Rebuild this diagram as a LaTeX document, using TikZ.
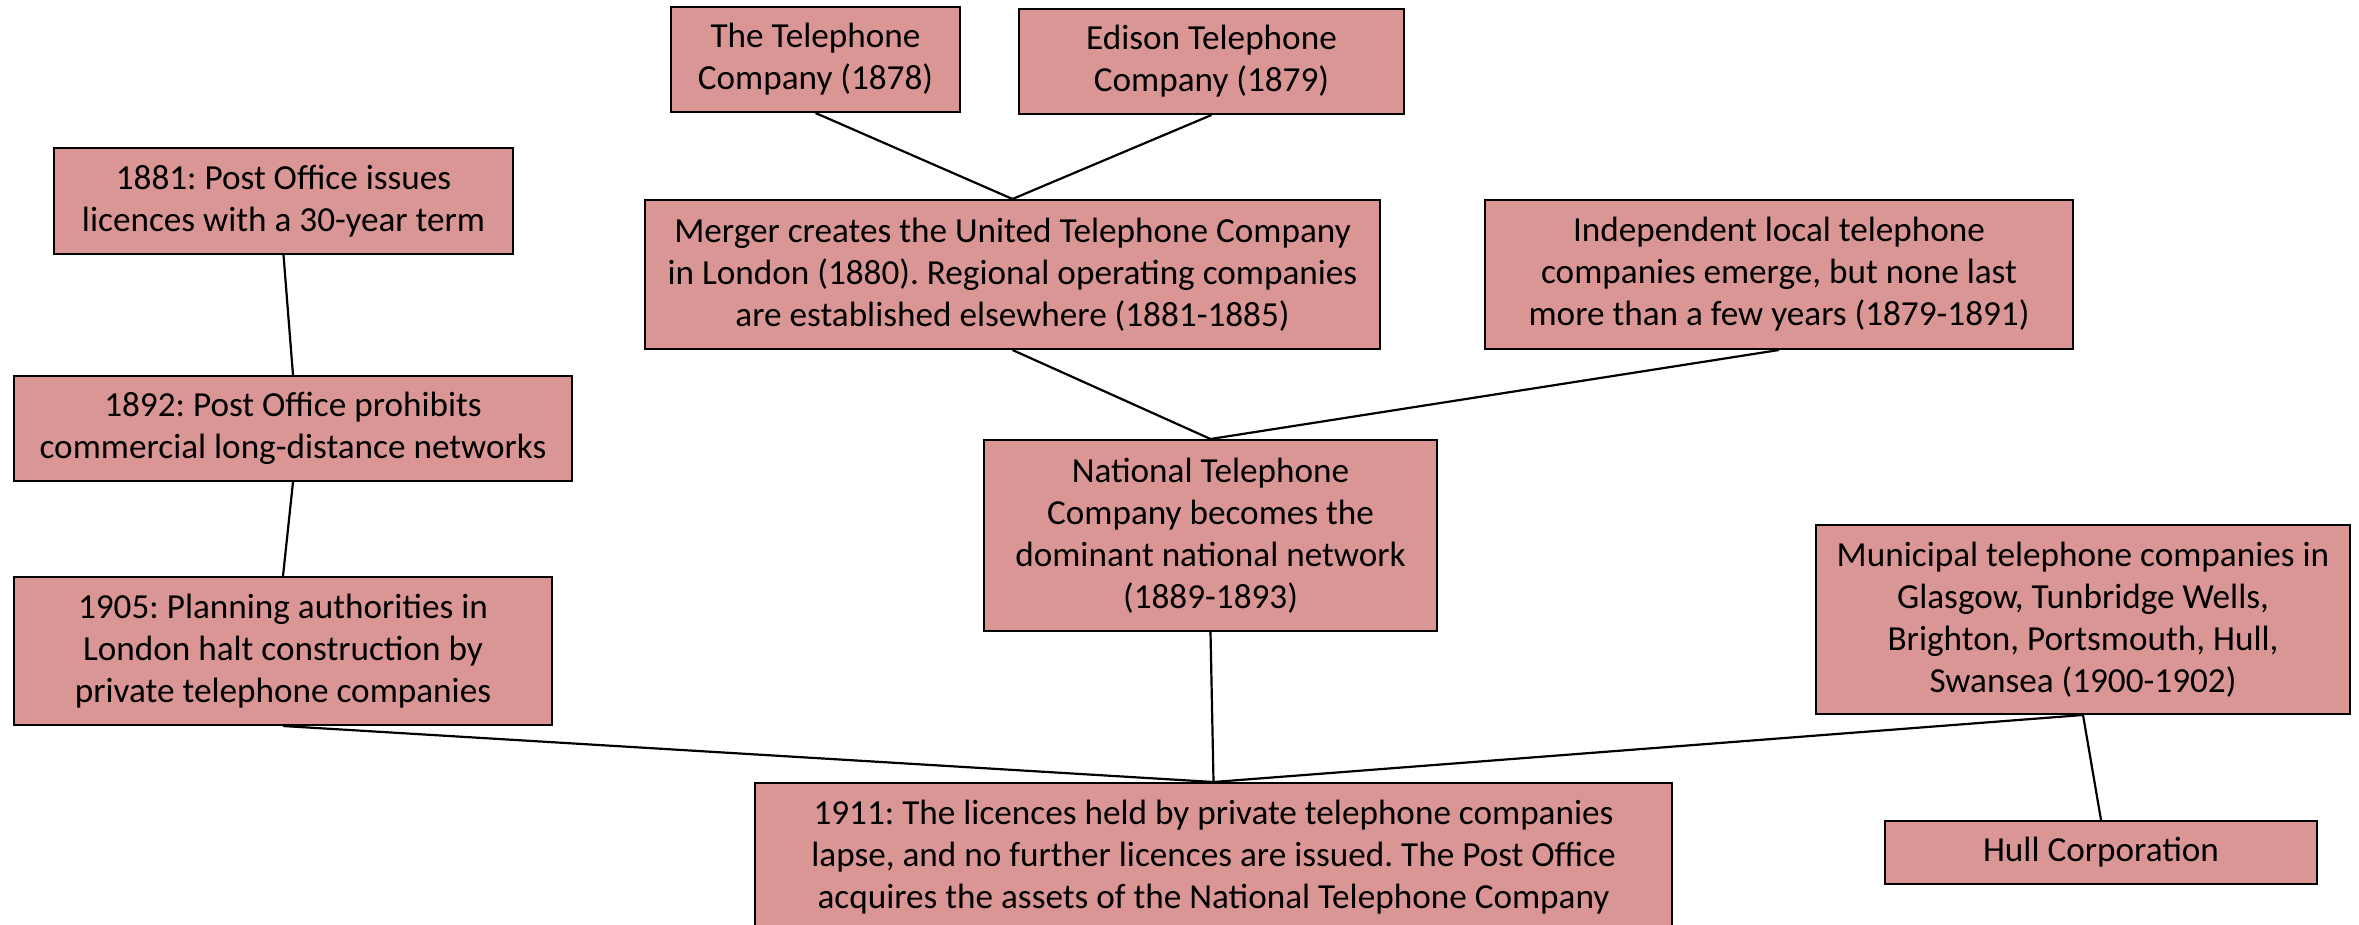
\documentclass[tikz,border=0pt]{standalone}
\usepackage{fontspec}
\setmainfont{Carlito}
\frenchspacing
\definecolor{boxfill}{HTML}{D99694}
\tikzset{
  evbox/.style={draw=black, fill=boxfill, line width=1pt, align=center, inner sep=0pt,
    font=\fontsize{17.6}{21}\selectfont},
  link/.style={draw=black, line width=1.1pt}
}
\begin{document}
\begin{tikzpicture}[x=0.5pt, y=-0.5pt]
\useasboundingbox (0,0) rectangle (2359,925);
\clip (0,0) rectangle (2359,925);
\node[evbox, minimum width=144.5pt, minimum height=52.5pt] (telco) at (815.5,59.5) {The Telephone\\Company (1878)};
\node[evbox, minimum width=192.5pt, minimum height=52.5pt] (edison) at (1211.5,61.5) {Edison Telephone\\Company (1879)};
\node[evbox, minimum width=229.5pt, minimum height=53pt] (po1881) at (283.5,201) {1881: Post Office issues\\licences with a 30-year term};
\node[evbox, minimum width=367.5pt, minimum height=74.5pt] (merger) at (1012.5,274.5) {Merger creates the United Telephone Company\\in London (1880). Regional operating companies\\are established elsewhere (1881-1885)};
\node[evbox, minimum width=294pt, minimum height=74.5pt] (indep) at (1779,274.5) {Independent local telephone\\companies emerge, but none last\\more than a few years (1879-1891)};
\node[evbox, minimum width=279pt, minimum height=52.5pt] (po1892) at (293,428.5) {1892: Post Office prohibits\\commercial long-distance networks};
\node[evbox, minimum width=226.5pt, minimum height=95.5pt] (national) at (1210.5,535.5) {National Telephone\\Company becomes the\\dominant national network\\(1889-1893)};
\node[evbox, minimum width=267pt, minimum height=94.5pt] (municipal) at (2083,619.5) {Municipal telephone companies in\\Glasgow, Tunbridge Wells,\\Brighton, Portsmouth, Hull,\\Swansea (1900-1902)};
\node[evbox, minimum width=269pt, minimum height=74pt] (pa1905) at (283,651) {1905: Planning authorities in\\London halt construction by\\private telephone companies};
\node[evbox, minimum width=458.5pt, minimum height=74.5pt] (lapse1911) at (1213.5,857.5) {1911: The licences held by private telephone companies\\lapse, and no further licences are issued. The Post Office\\acquires the assets of the National Telephone Company};
\node[evbox, minimum width=216pt, minimum height=31.5pt] (hull) at (2101,852.5) {Hull Corporation};

\draw[link] (telco.south) -- (merger.north);
\draw[link] (edison.south) -- (merger.north);
\draw[link] (po1881.south) -- (po1892.north);
\draw[link] (po1892.south) -- (pa1905.north);
\draw[link] (merger.south) -- (national.north);
\draw[link] (indep.south) -- (national.north);
\draw[link] (national.south) -- (lapse1911.north);
\draw[link] (pa1905.south) -- (lapse1911.north);
\draw[link] (municipal.south) -- (lapse1911.north);
\draw[link] (municipal.south) -- (hull.north);
\end{tikzpicture}
\end{document}
